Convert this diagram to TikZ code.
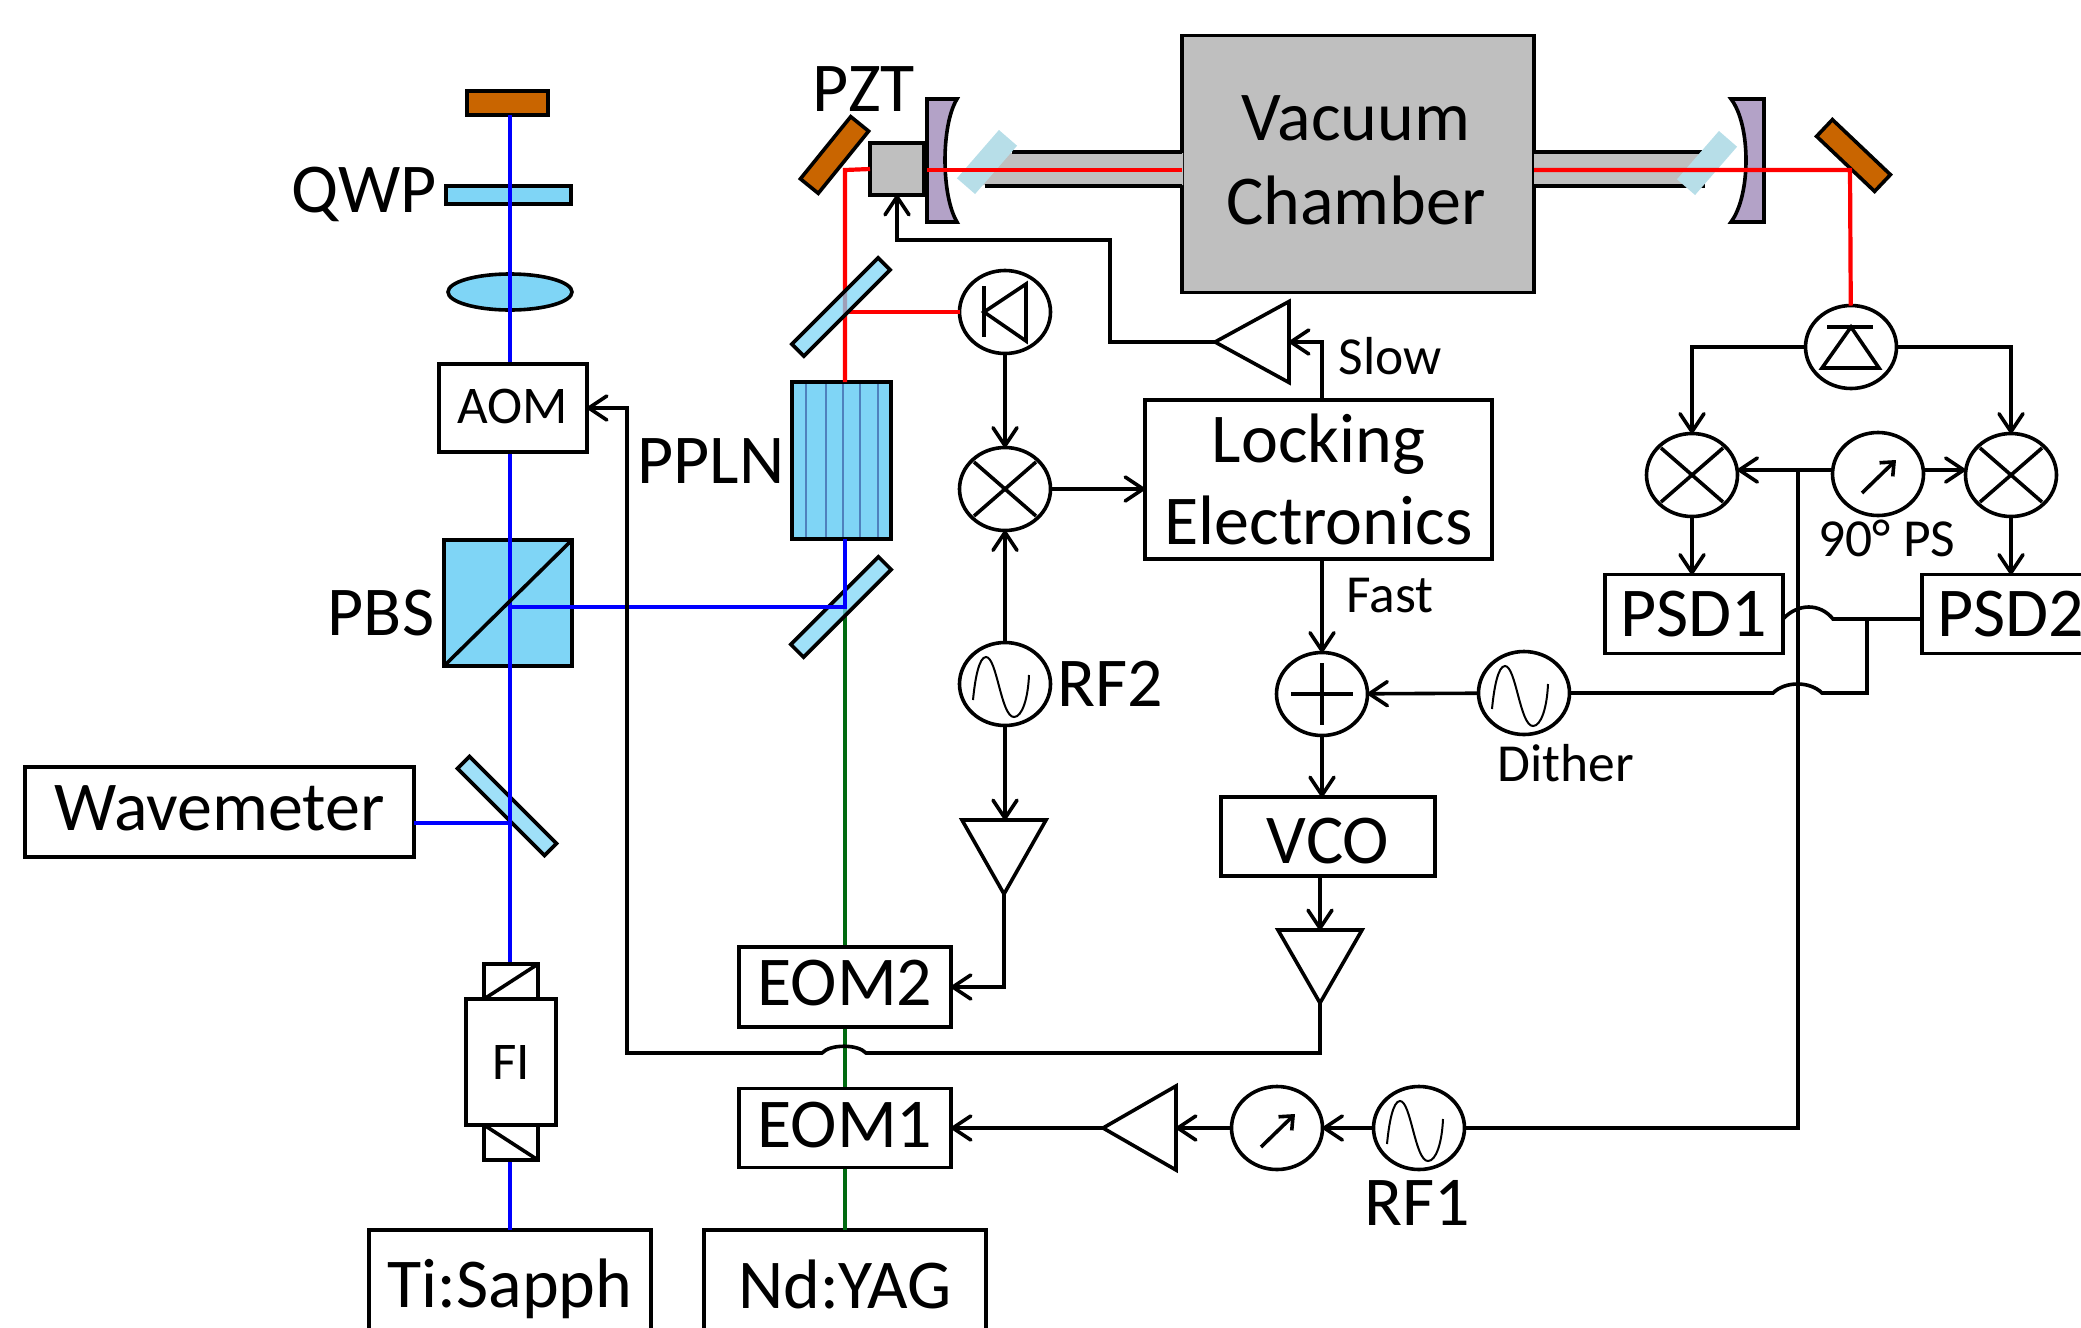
\documentclass[tikz,border=0pt]{standalone}
\usepackage{fontspec}
\usepackage{xcolor}
\usepackage{tikz}
\usetikzlibrary{arrows.meta,shapes.geometric}
\setmainfont{Carlito}
\definecolor{mirrorcol}{HTML}{C96500}
\definecolor{cubecol}{HTML}{7FD5F6}
\definecolor{palecol}{HTML}{B7DEE8}
\definecolor{cavcol}{HTML}{B3A2C7}
\definecolor{vaccol}{HTML}{BFBFBF}
\definecolor{polecol}{HTML}{4F81BD}
\definecolor{greenbeam}{HTML}{006A10}
\newcommand{\liftext}[2]{\raisebox{#1}[\height][\depth]{#2}}
\tikzset{
  devbox/.style={draw,fill=white,inner sep=0pt,outer sep=0pt,align=center,font=\fontsize{70}{84}\selectfont},
  smallbox/.style={devbox,font=\fontsize{53}{60}\selectfont},
  biglabel/.style={inner sep=0pt,align=center,font=\fontsize{70}{84}\selectfont},
  smalllabel/.style={inner sep=0pt,font=\fontsize{53.5}{60}\selectfont},
  roundbox/.style={ellipse,draw,fill=white,inner sep=0pt,outer sep=0pt,minimum width=91pt,minimum height=83pt},
  ampbox/.style={isosceles triangle,isosceles triangle stretches,draw,fill=white,inner sep=0pt,outer sep=0pt},
  platebox/.style={draw,fill=cubecol,fill opacity=0.75,inner sep=0pt,outer sep=0pt},
  brewbox/.style={fill=palecol,inner sep=0pt,outer sep=0pt,minimum width=64pt,minimum height=24pt,rotate=49},
  foldbox/.style={draw,fill=mirrorcol,inner sep=0pt,outer sep=0pt,minimum width=80pt,minimum height=23pt},
  redbeam/.style={draw=red,line width=4.2pt},
  bluebeam/.style={draw=blue,line width=4pt},
  mixercross/.pic={\draw (-31,-27) -- (31,27); \draw (-31,27) -- (31,-27);},
  adderplus/.pic={\draw (-31,0) -- (31,0); \draw (0,-31) -- (0,31);},
  sinewave/.pic={\draw[line width=2pt] (-32,16) .. controls (-30,-5) and (-26,-27) .. (-19,-27) .. controls (-8,-27) and (-4,33) .. (9,33) .. controls (17,33) and (23,15) .. (24,-9);},
  shiftarrow/.pic={\draw[->,>={Straight Barb[length=11pt,width=19pt]}] (-16,19) -- (18,-14);},
  diodeleft/.pic={\draw (-21,-26) -- (-21,25); \draw (21,-28) -- (-21,0) -- (21,29) -- cycle;},
  diodedown/.pic={\draw (-24,-20) -- (22,-20); \draw (0,-20) -- (-29,21) -- (28,21) -- cycle;}
}
\begin{document}
\begin{tikzpicture}[x=1pt,y=-1pt,line width=3.6pt,>={Straight Barb[length=18pt,width=24pt,round]}]
\clip (0,0) rectangle (2081,1328);
\node[devbox,fill=vaccol,minimum width=352pt,minimum height=257pt] (vacuum) at (1358,164) {};
\node[biglabel] (vaclabel) at (1356,160) {Vacuum\\Chamber};
\fill[vaccol] (1005,153) -- (1183,153) -- (1183,185) -- (978,185) -- cycle;
\fill[vaccol] (1534,153) -- (1704,153) -- (1704,185) -- (1534,185) -- cycle;
\draw (1012,152) -- (vacuum.west |- 0,152);
\draw (985,186) -- (vacuum.west |- 0,186);
\draw (vacuum.east |- 0,152) -- (1702,152);
\draw (vacuum.east |- 0,186) -- (1705,186);
\node[brewbox] (brewl) at (987,162) {};
\node[brewbox] (brewr) at (1707,163) {};
\draw[fill=cavcol] (927,99) -- (957,99) .. controls (941,125) and (941,195) .. (957,222) -- (927,222) -- cycle;
\draw[fill=cavcol] (1764,99) -- (1731,99) .. controls (1751,125) and (1751,195) .. (1731,222) -- (1764,222) -- cycle;
\node[foldbox,rotate=51] (foldl) at (834.5,155) {};
\node[foldbox,rotate=-43.5] (foldr) at (1853.5,155.5) {};
\node[devbox,fill=vaccol,minimum width=54pt,minimum height=52pt] (pzt) at (897,169) {};
\node[biglabel] (pztlabel) at (864,89) {PZT};
\coordinate (cavl) at (927,170);
\coordinate (cavr) at (1850,170);
\coordinate (redcorner) at (845,170);
\node[roundbox] (pda) at (1005,312) {};
\node[roundbox] (pdb) at (1851,347) {};
\node[draw,fill=cubecol,inner sep=0pt,outer sep=0pt,minimum width=99pt,minimum height=157pt] (ppln) at (841.5,460.5) {};
\foreach \xline in {806,826,843,860,878}
  \draw[polecol,line width=2.6pt] (\xline,384) -- (\xline,537);
\node[biglabel] (ppnlabel) at (711,461) {PPLN};
\draw[redbeam] (pzt.west) -- (redcorner) -- (redcorner |- ppln.north);
\draw[redbeam] (redcorner |- pda) -- (pda);
\draw[redbeam] (cavl) -- (cavl -| vacuum.west);
\draw[redbeam] (cavl -| vacuum.east) -- (cavr) -- (pdb);
\node[platebox,rotate=45,minimum width=122pt,minimum height=17pt] (platea) at (841,307) {};
\node[draw,fill=mirrorcol,inner sep=0pt,outer sep=0pt,minimum width=81pt,minimum height=24pt] (topmirror) at (507.5,103) {};
\node[devbox,fill=cubecol,minimum width=125pt,minimum height=18pt] (qwp) at (508.5,195) {};
\node[biglabel] (qwplabel) at (364,194) {QWP};
\node[ellipse,draw,fill=cubecol,inner sep=0pt,outer sep=0pt,minimum width=124pt,minimum height=36pt] (lens) at (510,292) {};
\node[devbox,fill=cubecol,minimum width=128pt,minimum height=126pt] (pbs) at (508,603) {};
\node[biglabel] (pbslabel) at (381,613) {PBS};
\node[platebox,rotate=-45,minimum width=123pt,minimum height=17pt] (platew) at (507,806) {};
\node[devbox,minimum width=282pt,minimum height=110pt] (tisapph) at (510,1285) {\liftext{-4pt}{Ti:Sapph}};
\node[devbox,minimum width=282pt,minimum height=110pt] (ndyag) at (845,1285) {\liftext{1pt}{Nd:YAG}};
\coordinate (pbsspot) at (510,607);
\coordinate (dichspot) at (845,607);
\coordinate (wavetap) at (510,823);
\draw[draw=greenbeam,line width=3.4pt] (ndyag.north) -- (dichspot);
\node[platebox,rotate=45,minimum width=124pt,minimum height=18pt] (plateb) at (841,607) {};
\draw[bluebeam] (tisapph.north) -- (tisapph.north |- topmirror.south);
\draw[bluebeam] (pbsspot) -- (dichspot) -- (dichspot |- ppln.south);
\draw (pbs.south west) -- (pbs.north east);
\node[smallbox,minimum width=148pt,minimum height=88pt] (aom) at (513,408) {\liftext{2pt}{AOM}};
\node[devbox,minimum width=54pt,minimum height=35pt] (fia) at (511,981.5) {};
\node[devbox,minimum width=54pt,minimum height=35pt] (fib) at (511,1142.5) {};
\draw (fia.south west) -- (fia.north east);
\draw (fib.north west) -- (fib.south east);
\node[smallbox,minimum width=90pt,minimum height=126pt] (fi) at (511,1062) {FI};
\node[devbox,minimum width=389pt,minimum height=90pt] (wavemeter) at (219.5,812) {\liftext{4pt}{Wavemeter}};
\draw[bluebeam] (wavemeter.east |- wavetap) -- (wavetap);
\node[devbox,minimum width=212pt,minimum height=80pt] (eomtwo) at (845,987) {\liftext{4pt}{EOM2}};
\node[devbox,minimum width=212pt,minimum height=79pt] (eomone) at (845,1128) {\liftext{3pt}{EOM1}};
\node[devbox,minimum width=347pt,minimum height=159pt] (locking) at (1318.5,479.5) {Locking\\[-2pt]Electronics};
\node[devbox,minimum width=214pt,minimum height=79pt] (vco) at (1328,836.5) {\liftext{-5pt}{VCO}};
\node[devbox,minimum width=178pt,minimum height=79pt] (psdone) at (1694,614) {PSD1};
\node[devbox,minimum width=178pt,minimum height=79pt] (psdtwo) at (2011,614) {PSD2};
\node[roundbox] (mixa) at (1005,489) {};
\node[roundbox] (mixl) at (1692,475) {};
\node[roundbox] (mixr) at (2011,475) {};
\node[roundbox] (adder) at (1322,694) {};
\node[roundbox] (rftwo) at (1005,684) {};
\node[roundbox] (dither) at (1524,693) {};
\node[roundbox] (rfone) at (1419,1128) {};
\node[roundbox] (shifta) at (1277,1128) {};
\node[roundbox] (shiftq) at (1878,474) {};
\node[biglabel] (rftwolabel) at (1110,684) {RF2};
\node[biglabel] (rfonelabel) at (1417,1203) {RF1};
\node[smalllabel] (ditherlabel) at (1566,763) {Dither};
\node[smalllabel] (shiftlabel) at (1887,538) {90° PS};
\node[smalllabel] (slowlabel) at (1390,356) {Slow};
\node[smalllabel] (fastlabel) at (1390,596) {Fast};
\pic at (pda) {diodeleft};
\pic at (pdb) {diodedown};
\pic at (mixa) {mixercross};
\pic at (mixl) {mixercross};
\pic at (mixr) {mixercross};
\pic at (adder) {adderplus};
\pic at (rftwo) {sinewave};
\pic at (dither) {sinewave};
\pic at (rfone) {sinewave};
\pic at (shifta) {shiftarrow};
\pic at (shiftq) {shiftarrow};
\node[ampbox,shape border rotate=180,minimum width=81pt,minimum height=74pt,anchor=apex] (ampc) at (1215,342) {};
\node[ampbox,shape border rotate=270,minimum width=84pt,minimum height=74pt,anchor=apex] (ampa) at (1004,894) {};
\node[ampbox,shape border rotate=270,minimum width=84pt,minimum height=73pt,anchor=apex] (ampb) at (1320,1003) {};
\node[ampbox,shape border rotate=180,minimum width=84pt,minimum height=73pt,anchor=apex] (ampd) at (1103,1128) {};
\draw[->] (pda) -- (mixa);
\draw[->] (rftwo) -- (mixa);
\draw[->] (mixa) -- (locking.west |- mixa);
\draw[->] (rftwo) -- (rftwo |- ampa.lower side);
\draw[->] (ampa.apex) |- (eomtwo.east);
\draw[->] (adder |- locking.north) -- (adder |- ampc) -- (ampc.lower side);
\draw[->] (ampc.apex) -- ++(-105,0) -- ++(0,-102) -| (pzt.south);
\draw[->] (adder |- locking.south) -- (adder);
\draw[->] (dither) -- (adder);
\draw[->] (adder) -- (adder |- vco.north);
\draw[->] (vco.south -| ampb.apex) -- (ampb.lower side);
\draw[->] (ampb.apex) -- (1320,1053) -- (866,1053) .. controls (858,1044) and (830,1044) .. (822,1053) -- (627,1053) |- (aom.east);
\draw[->] (rfone) -- (shifta);
\draw[->] (shifta) -- (ampd.lower side);
\draw[->] (ampd.apex) -- (eomone.east);
\coordinate (rfvert) at (1798,1128);
\coordinate (psdtap) at (1867,619);
\coordinate (shiftline) at (1878,470);
\draw (rfone) -- (rfvert) -- (rfvert |- shiftline);
\draw[->] (shiftq.west |- shiftline) -- (mixl.east |- shiftline);
\draw[->] (shiftq.east |- shiftline) -- (mixr.west |- shiftline);
\draw[->] (pdb) -| (mixl);
\draw[->] (pdb) -| (mixr);
\draw[->] (mixl) -- (mixl |- psdone.north);
\draw[->] (mixr) -- (mixr |- psdtwo.north);
\draw (psdtwo.west |- psdtap) -- (1833,619) .. controls (1820,603) and (1798,603) .. (psdone.east |- psdtap);
\draw (dither) -- (1773,693) .. controls (1785,681) and (1810,681) .. (1822,693) -| (psdtap);
\end{tikzpicture}
\end{document}
